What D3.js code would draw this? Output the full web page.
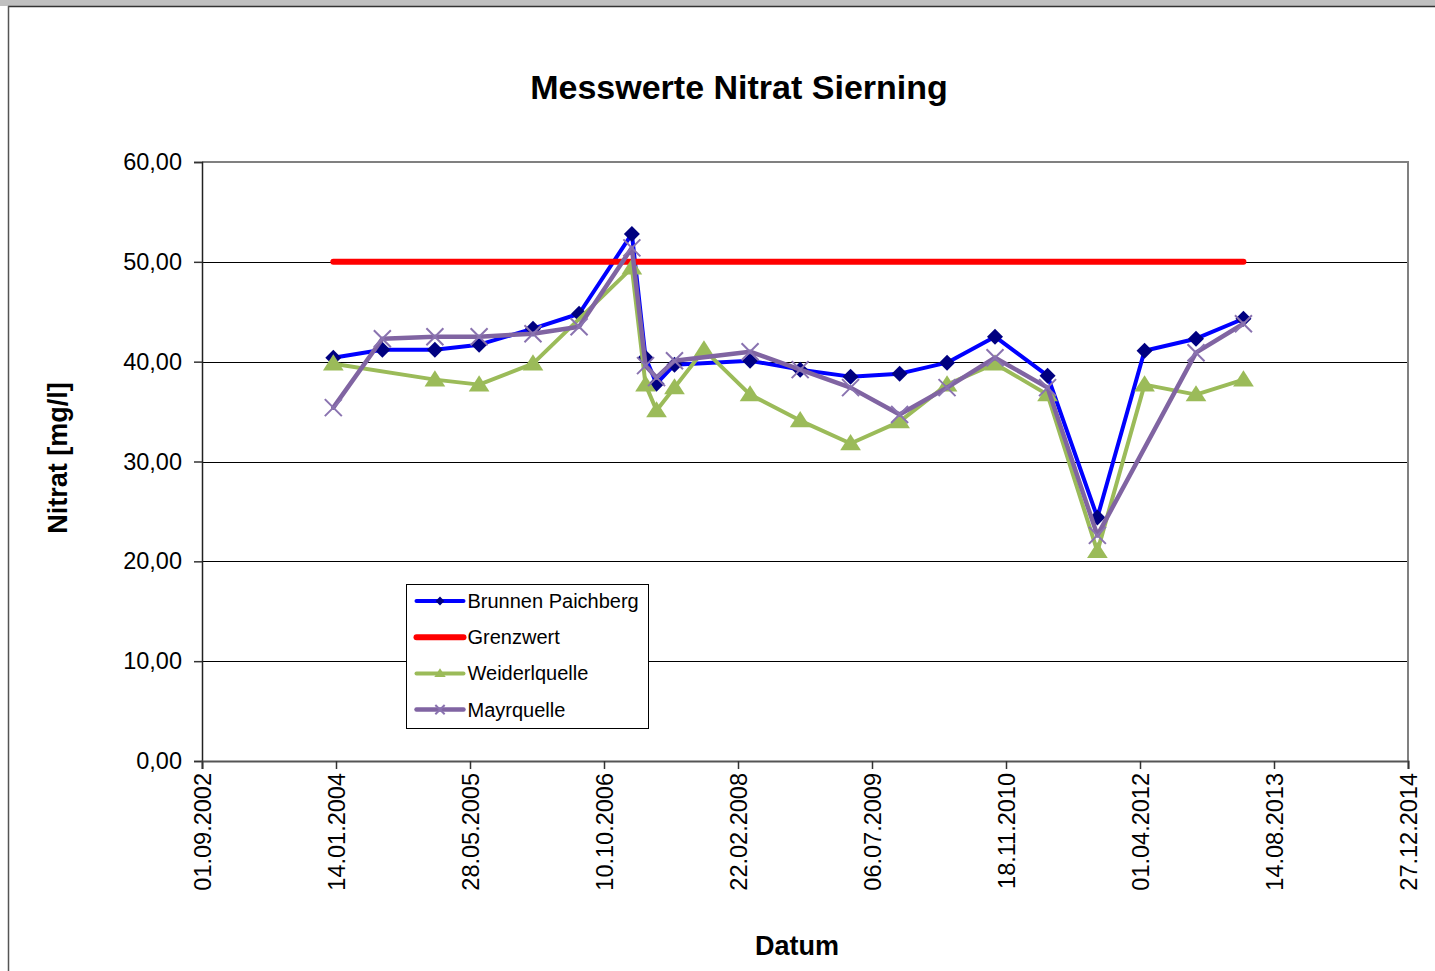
<!DOCTYPE html>
<html>
<head>
<meta charset="utf-8">
<script src="https://cdn.jsdelivr.net/npm/d3@7"></script>
<style>
  body { margin: 0; background: #ffffff; }
  svg { display: block; font-family: "Liberation Sans", Arial, sans-serif; }
</style>
</head>
<body>
<div id="chart"></div>
<script>
// Messwerte Nitrat Sierning - line chart with date axis

// sampling dates
const sampleDates = [
    '2004-01-04', '2004-07-05', '2005-01-17', '2005-07-01', '2006-01-18', '2006-07-09',
    '2007-01-22', '2007-03-14', '2007-04-24', '2007-06-30', '2007-10-18', '2008-04-07',
    '2008-10-11', '2009-04-17', '2009-10-17', '2010-04-12', '2010-10-08', '2011-04-22',
    '2011-10-25', '2012-04-18', '2012-10-27', '2013-04-22'
];

// nitrate values in mg/l (null = no sample)
const brunnenPaichberg = [
    40.4, 41.2, 41.2, 41.7, 43.3, 44.8, 52.8, 40.4, 37.8, 39.7, null, 40.1,
    39.2, 38.5, 38.8, 39.9, 42.5, 38.6, 24.4, 41.1, 42.3, 44.3
];
const weiderlquelle = [
    39.8, null, 38.2, 37.7, 39.8, null, 49.4, 37.7, 35.1, 37.4, 41.2, 36.7,
    34.1, 31.8, 34.0, 37.7, 39.8, 36.7, 21.0, 37.7, 36.7, 38.2
];
const mayrquelle = [
    35.4, 42.3, 42.5, 42.5, 42.8, 43.5, 51.4, 39.6, 38.4, 40.1, null, 41.0,
    39.2, 37.4, 34.7, 37.4, 40.4, 37.4, 22.6, null, 40.9, 43.8
];
const grenzwertDates = ['2004-01-04', '2013-04-22'];
const grenzwert = [50, 50];

// axis ticks
const xTickDates = [
    '2002-09-01', '2004-01-14', '2005-05-28', '2006-10-10', '2008-02-22',
    '2009-07-06', '2010-11-18', '2012-04-01', '2013-08-14', '2014-12-27'
];
const yTicks = [0, 10, 20, 30, 40, 50, 60];

const seriesNames = ['Brunnen Paichberg', 'Grenzwert', 'Weiderlquelle', 'Mayrquelle'];

function drawChart() {
    const totalWidth = 1435;
    const totalHeight = 971;
    const plot = { left: 202, right: 1408, top: 162, bottom: 761 };

    const parse = d3.utcParse('%Y-%m-%d');
    const fmtDate = d3.utcFormat('%d.%m.%Y');
    const fmtNum = d => d3.format('.2f')(d).replace('.', ',');

    const svg = d3.select('#chart')
        .append('svg')
        .attr('width', totalWidth)
        .attr('height', totalHeight);

    // window frame
    svg.append('rect')
        .attr('x', 0).attr('y', 0)
        .attr('width', totalWidth).attr('height', 6)
        .style('fill', '#c0c0c0');
    svg.append('line')
        .attr('x1', 8).attr('x2', totalWidth)
        .attr('y1', 6.5).attr('y2', 6.5)
        .style('stroke', '#333').style('stroke-width', 1.5);
    svg.append('line')
        .attr('x1', 8.5).attr('x2', 8.5)
        .attr('y1', 6).attr('y2', totalHeight)
        .style('stroke', '#555').style('stroke-width', 1.5);

    // scales
    const x = d3.scaleUtc()
        .domain([parse(xTickDates[0]), parse(xTickDates[xTickDates.length - 1])])
        .range([plot.left, plot.right]);

    const y = d3.scaleLinear()
        .domain([0, 60])
        .range([plot.bottom, plot.top]);

    // title
    svg.append('text')
        .attr('x', 739)
        .attr('y', 99)
        .attr('text-anchor', 'middle')
        .style('font-size', '34px')
        .style('font-weight', 'bold')
        .text('Messwerte Nitrat Sierning');

    // grid lines
    svg.append('g')
        .selectAll('line')
        .data(yTicks.filter(d => d > 0 && d < 60))
        .enter()
        .append('line')
        .attr('x1', plot.left).attr('x2', plot.right)
        .attr('y1', d => Math.round(y(d)) + 0.5)
        .attr('y2', d => Math.round(y(d)) + 0.5)
        .style('stroke', '#000')
        .style('stroke-width', 1);

    // plot border (top and right)
    svg.append('path')
        .attr('d', `M${plot.left},${plot.top} H${plot.right} V${plot.bottom}`)
        .style('fill', 'none')
        .style('stroke', '#808080')
        .style('stroke-width', 2);

    // y axis
    const yAxis = svg.append('g')
        .attr('transform', `translate(${plot.left},0)`)
        .call(d3.axisLeft(y).tickValues(yTicks).tickSize(8).tickPadding(12).tickFormat(fmtNum));
    yAxis.select('.domain').style('stroke', '#222').style('stroke-width', 1.5);
    yAxis.selectAll('.tick line').style('stroke', '#333').style('stroke-width', 1.5);
    yAxis.selectAll('text')
        .style('font-size', '23.5px')
        .style('font-family', '"Liberation Sans", Arial, sans-serif')
        .style('fill', '#000');

    // x axis
    const xAxis = svg.append('g')
        .attr('transform', `translate(0,${plot.bottom})`)
        .call(d3.axisBottom(x).tickValues(xTickDates.map(parse)).tickSize(8).tickFormat(fmtDate));
    xAxis.select('.domain').style('stroke', '#555').style('stroke-width', 2);
    xAxis.selectAll('.tick line').style('stroke', '#333').style('stroke-width', 1.5);
    xAxis.selectAll('text')
        .attr('transform', 'rotate(-90)')
        .attr('x', -12)
        .attr('y', 0)
        .attr('dy', '0.35em')
        .style('text-anchor', 'end')
        .style('font-size', '23.5px')
        .style('font-family', '"Liberation Sans", Arial, sans-serif')
        .style('fill', '#000');

    // axis labels
    svg.append('text')
        .attr('transform', 'rotate(-90)')
        .attr('x', -458)
        .attr('y', 67)
        .attr('text-anchor', 'middle')
        .style('font-size', '27px')
        .style('font-weight', 'bold')
        .text('Nitrat [mg/l]');

    svg.append('text')
        .attr('x', 797)
        .attr('y', 955)
        .attr('text-anchor', 'middle')
        .style('font-size', '27px')
        .style('font-weight', 'bold')
        .text('Datum');

    // series data
    const toPoints = (dates, values) => dates
        .map((d, i) => ({ date: parse(d), value: values[i] }))
        .filter(d => d.value !== null);

    const series = [
        { name: seriesNames[0], points: toPoints(sampleDates, brunnenPaichberg),
          color: '#0000ff', width: 4, marker: 'diamond', markerColor: '#000080' },
        { name: seriesNames[1], points: toPoints(grenzwertDates, grenzwert),
          color: '#ff0000', width: 6, marker: null },
        { name: seriesNames[2], points: toPoints(sampleDates, weiderlquelle),
          color: '#9bbb59', width: 4, marker: 'triangle', markerColor: '#9bbb59' },
        { name: seriesNames[3], points: toPoints(sampleDates, mayrquelle),
          color: '#8064a2', width: 4.5, marker: 'x', markerColor: '#8a73b0' }
    ];

    const line = d3.line()
        .x(d => x(d.date))
        .y(d => y(d.value));

    function markerPath(type, s) {
        if (type === 'diamond') return `M0,${-s} L${s},0 L0,${s} L${-s},0 Z`;
        if (type === 'triangle') return `M0,${-s * 1.05} L${s * 1.15},${s * 0.75} L${-s * 1.15},${s * 0.75} Z`;
        if (type === 'x') return `M${-s},${-s} L${s},${s} M${-s},${s} L${s},${-s}`;
        return '';
    }

    function drawMarker(g, type, color, s) {
        const p = g.append('path').attr('d', markerPath(type, s));
        if (type === 'x') {
            p.style('fill', 'none').style('stroke', color).style('stroke-width', 2);
        } else {
            p.style('fill', color).style('stroke', 'none');
        }
    }

    const markerSize = { diamond: 8, triangle: 9, x: 8.5 };

    series.forEach(s => {
        const g = svg.append('g').attr('class', 'series');
        g.append('path')
            .datum(s.points)
            .attr('d', line)
            .style('fill', 'none')
            .style('stroke', s.color)
            .style('stroke-width', s.width)
            .style('stroke-linejoin', 'round')
            .style('stroke-linecap', 'round');

        if (s.marker) {
            s.points.forEach(p => {
                const m = g.append('g').attr('transform', `translate(${x(p.date)},${y(p.value)})`);
                drawMarker(m, s.marker, s.markerColor, markerSize[s.marker]);
            });
        }
    });

    // legend
    const legend = svg.append('g')
        .attr('transform', 'translate(406.5,584.5)');

    legend.append('rect')
        .attr('width', 242)
        .attr('height', 144)
        .style('fill', '#fff')
        .style('stroke', '#000')
        .style('stroke-width', 1);

    const items = legend.selectAll('.legend-item')
        .data(series)
        .enter()
        .append('g')
        .attr('class', 'legend-item')
        .attr('transform', (d, i) => `translate(0,${16.5 + i * 36.2})`);

    items.append('line')
        .attr('x1', 10).attr('x2', 57)
        .style('stroke', d => d.color)
        .style('stroke-width', d => d.width)
        .style('stroke-linecap', 'round');

    items.each(function(d) {
        if (d.marker) {
            const m = d3.select(this).append('g').attr('transform', 'translate(33.5,0)');
            drawMarker(m, d.marker, d.markerColor, markerSize[d.marker] * 0.55);
        }
    });

    items.append('text')
        .attr('x', 61)
        .attr('dy', '0.35em')
        .style('font-size', '20px')
        .text(d => d.name);
}

drawChart();
</script>
</body>
</html>
